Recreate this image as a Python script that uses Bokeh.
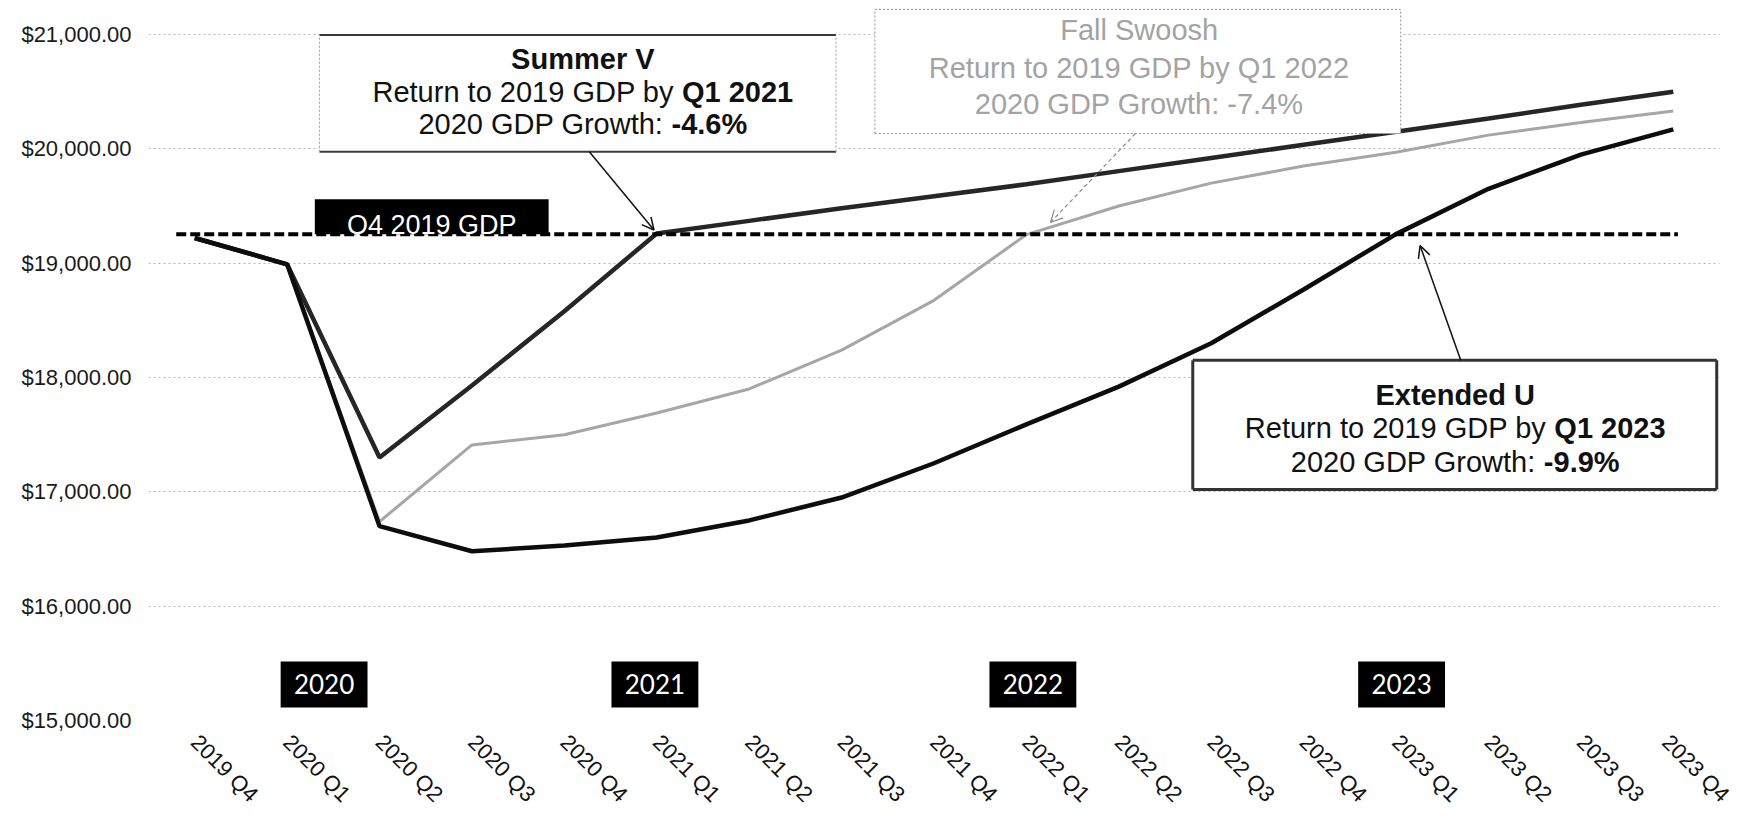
import math
from bokeh.plotting import figure
from bokeh.models import Range1d, FixedTicker, NumeralTickFormatter, Label, Arrow, OpenHead
from bokeh.embed import file_html
from bokeh.resources import INLINE

# ---------------- data ----------------
quarters = ["2019 Q4", "2020 Q1", "2020 Q2", "2020 Q3", "2020 Q4",
            "2021 Q1", "2021 Q2", "2021 Q3", "2021 Q4",
            "2022 Q1", "2022 Q2", "2022 Q3", "2022 Q4",
            "2023 Q1", "2023 Q2", "2023 Q3", "2023 Q4"]
summer_v = [19220, 18990, 17300, 17930, 18580, 19260, 19370, 19480, 19585,
            19690, 19805, 19920, 20035, 20150, 20265, 20385, 20500]
fall_swoosh = [19220, 18990, 16740, 17410, 17500, 17690, 17900, 18240, 18675,
               19250, 19500, 19700, 19850, 19970, 20120, 20230, 20330]
extended_u = [19220, 18990, 16700, 16480, 16530, 16600, 16750, 16950, 17250,
              17590, 17920, 18300, 18770, 19254, 19650, 19950, 20170]
q4_2019_gdp = 19254
y_ticks = [15000, 16000, 17000, 18000, 19000, 20000, 21000]
years = ["2020", "2021", "2022", "2023"]

# ---------------- layout constants ----------------
FONT = "Liberation Sans"
x_idx = list(range(len(quarters)))

p = figure(output_backend="svg", toolbar_location=None,
           frame_width=1571, frame_height=712,
           min_border_left=148, min_border_right=15,
           min_border_top=8, min_border_bottom=100,
           x_range=Range1d(-0.5, 16.5), y_range=Range1d(15000, 21227.4),
           background_fill_color="white", border_fill_color="white")
p.outline_line_color = None

# axes
p.yaxis.ticker = FixedTicker(ticks=y_ticks)
p.yaxis.formatter = NumeralTickFormatter(format="$0,0.00")
p.yaxis.axis_line_color = None
p.yaxis.major_tick_line_color = None
p.yaxis.minor_tick_line_color = None
p.yaxis.major_label_text_font = FONT
p.yaxis.major_label_text_font_size = "22px"
p.yaxis.major_label_text_color = "#1a1a1a"
p.yaxis.major_label_standoff = 11

p.xaxis.ticker = FixedTicker(ticks=x_idx)
p.xaxis.major_label_overrides = {i: q for i, q in enumerate(quarters)}
p.xaxis.major_label_orientation = -math.pi / 4
p.xaxis.axis_line_color = None
p.xaxis.major_tick_line_color = None
p.xaxis.minor_tick_line_color = None
p.xaxis.major_label_text_font = FONT
p.xaxis.major_label_text_font_size = "22px"
p.xaxis.major_label_text_color = "#111111"
p.xaxis.major_label_standoff = 12

p.xgrid.visible = False
p.ygrid.grid_line_color = "#b5b5b5"
p.ygrid.grid_line_dash = "2 3"
p.ygrid.grid_line_width = 1

# ---------------- text width helper (Arial metrics) ----------------
REG = {' ': 278, '-': 333, '.': 278, ',': 278, ':': 278, '%': 889,
       'R': 722, 'e': 556, 't': 278, 'u': 556, 'r': 333, 'n': 556, 'o': 556,
       'G': 778, 'D': 722, 'P': 667, 'b': 556, 'y': 500, 'Q': 778, 'w': 722,
       'h': 556, 'S': 667, 'm': 833, 'V': 667, 'F': 611, 'a': 556, 'l': 222,
       's': 500, 'E': 667, 'x': 500, 'd': 556, 'U': 722, 'i': 222, 'c': 500}
BOLD = {' ': 278, '-': 333, '.': 278, ',': 278, ':': 333, '%': 889,
        'Q': 778, 'S': 667, 'u': 611, 'm': 889, 'e': 556, 'r': 389, 'V': 667,
        'E': 667, 'x': 556, 't': 333, 'n': 611, 'd': 611, 'U': 722}


def tw(s, size, bold=False):
    tbl = BOLD if bold else REG
    return sum((556 if ch.isdigit() else tbl.get(ch, 556)) for ch in s) * size / 1000.0


def mixed_line(x, y, parts, size, color):
    widths = [tw(t, size, b) for t, b in parts]
    off = -sum(widths) / 2.0
    for (t, b), w in zip(parts, widths):
        p.add_layout(Label(x=x, y=y, x_offset=off, text=t, text_align="left",
                           text_baseline="middle", text_font=FONT,
                           text_font_size=f"{size}px",
                           text_font_style="bold" if b else "normal",
                           text_color=color))
        off += w


def box(left, right, bottom, top, fill="white", sides=None):
    p.quad(left=[left], right=[right], bottom=[bottom], top=[top],
           fill_color=fill, line_color=None)
    if sides:
        (tb_col, tb_w, tb_dash), (lr_col, lr_w, lr_dash) = sides
        p.segment(x0=[left, left], y0=[top, bottom], x1=[right, right], y1=[top, bottom],
                  line_color=tb_col, line_width=tb_w, line_dash=tb_dash)
        p.segment(x0=[left, right], y0=[bottom, bottom], x1=[left, right], y1=[top, top],
                  line_color=lr_col, line_width=lr_w, line_dash=lr_dash)


# ---------------- series ----------------
p.line(x_idx, fall_swoosh, line_color="#a6a6a6", line_width=3)
p.line(x_idx, summer_v, line_color="#262626", line_width=4.5)
p.line(x_idx, extended_u, line_color="#0d0d0d", line_width=4.5)

# ---------------- Q4 2019 GDP marker ----------------
box(1.30, 3.83, q4_2019_gdp, 19560, fill="black")
p.add_layout(Label(x=2.565, y=19330, text="Q4 2019 GDP",
                   text_align="center", text_baseline="middle",
                   text_font=FONT, text_font_size="27px", text_color="white"))
p.segment(x0=[-0.2], y0=[q4_2019_gdp], x1=[16.05], y1=[q4_2019_gdp],
          line_color="black", line_width=4, line_dash="10 4")

# ---------------- year boxes ----------------
year_pos = [1.40, 4.98, 9.07, 13.06]
for yr, cx in zip(years, year_pos):
    box(cx - 0.47, cx + 0.47, 15114, 15516, fill="black")
    p.add_layout(Label(x=cx, y=15315, text=yr, text_align="center",
                       text_baseline="middle", text_font="Lato",
                       text_font_size="26px", text_color="white"))

# ---------------- scenario call-outs ----------------
SZ = 29
# Summer V
box(1.35, 6.94, 19975, 20995,
    sides=(("#3a3a3a", 2, "solid"), ("#9a9a9a", 1, "2 2")))
mixed_line(4.2, 20790, [("Summer V", True)], SZ, "#111111")
mixed_line(4.2, 20501, [("Return to 2019 GDP by ", False), ("Q1 2021", True)], SZ, "#111111")
mixed_line(4.2, 20213, [("2020 GDP Growth: ", False), ("-4.6%", True)], SZ, "#111111")
p.add_layout(Arrow(end=OpenHead(size=12, line_width=1.5, line_color="#111111"),
                   x_start=4.27, y_start=19975, x_end=4.97, y_end=19290,
                   line_color="#111111", line_width=1.5))

# Fall Swoosh
box(7.36, 13.05, 20134, 21219,
    sides=(("#a0a0a0", 1.2, "2 2"), ("#a0a0a0", 1.2, "2 2")))
mixed_line(10.22, 21035, [("Fall Swoosh", False)], SZ, "#a3a3a3")
mixed_line(10.22, 20711, [("Return to 2019 GDP by Q1 2022", False)], SZ, "#a3a3a3")
mixed_line(10.22, 20388, [("2020 GDP Growth: -7.4%", False)], SZ, "#a3a3a3")
p.add_layout(Arrow(end=OpenHead(size=12, line_width=1.2, line_color="#8a8a8a"),
                   x_start=10.18, y_start=20134, x_end=9.26, y_end=19356,
                   line_color="#8a8a8a", line_width=1.2, line_dash="4 3"))

# Extended U
box(10.80, 16.47, 17020, 18150,
    sides=(("#333333", 3, "solid"), ("#333333", 3, "solid")))
mixed_line(13.64, 17851, [("Extended U", True)], SZ, "#111111")
mixed_line(13.64, 17554, [("Return to 2019 GDP by ", False), ("Q1 2023", True)], SZ, "#111111")
mixed_line(13.64, 17265, [("2020 GDP Growth: ", False), ("-9.9%", True)], SZ, "#111111")
p.add_layout(Arrow(end=OpenHead(size=12, line_width=1.5, line_color="#111111"),
                   x_start=13.70, y_start=18150, x_end=13.26, y_end=19154,
                   line_color="#111111", line_width=1.5))

open("out.html", "w").write(file_html(p, INLINE))
